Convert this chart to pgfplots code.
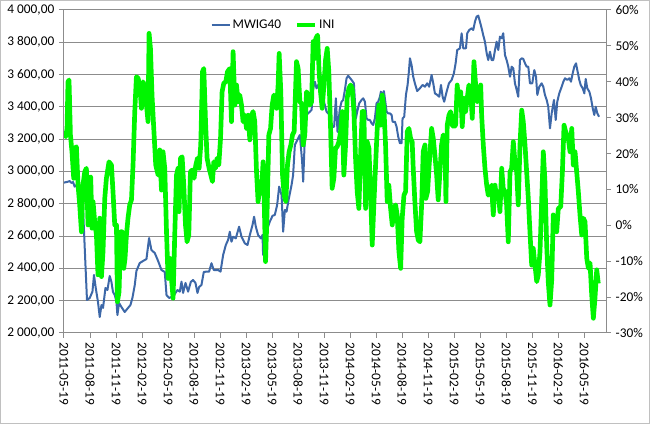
\documentclass[border=0pt]{standalone}
\usepackage{fontspec}
\setmainfont{Carlito}
\usepackage{pgfplots}
\pgfplotsset{compat=1.18}
\definecolor{mwig}{HTML}{3D68A8}
\definecolor{ini}{HTML}{00F500}
\definecolor{gridc}{HTML}{8C8C8C}
\definecolor{framec}{HTML}{C0C0C0}

\pgfplotsset{
  chartbox/.style={
    at={(48pt,68.25pt)}, anchor=south west,
    scale only axis, width=406.5pt, height=242.25pt,
    xmin=0, xmax=62.5,
    tick align=outside, major tick length=3.75pt,
    tick style={gridc, line width=0.75pt},
    axis line style={gridc, line width=0.75pt},
    tick label style={font=\fontsize{10}{12}\selectfont, black},
    /pgf/number format/assume math mode=true,
  }
}

\begin{document}
\fontsize{10}{12}\selectfont
\begin{tikzpicture}
\path[use as bounding box] (0,0) rectangle (487.5pt,318pt);
\draw[framec, line width=0.75pt] (0.4pt,0.4pt) rectangle (487.1pt,317.6pt);

% left axis: MWIG40
\begin{axis}[chartbox,
  ymin=2000, ymax=4000,
  axis x line*=bottom, axis y line*=left,
  xtick={0,3,...,60},
  xticklabels={2011-05-19,2011-08-19,2011-11-19,2012-02-19,2012-05-19,2012-08-19,2012-11-19,2013-02-19,2013-05-19,2013-08-19,2013-11-19,2014-02-19,2014-05-19,2014-08-19,2014-11-19,2015-02-19,2015-05-19,2015-08-19,2015-11-19,2016-02-19,2016-05-19},
  xticklabel style={rotate=-90, anchor=west},
  ytick={2000,2200,...,4000},
  yticklabel style={/pgf/number format/.cd, fixed, fixed zerofill, precision=2, use comma, 1000 sep={\ }},
  ymajorgrids, grid style={gridc, line width=0.75pt},
]
\addplot[mwig, line width=1.5pt, line join=round] coordinates {
(0,2931)(0.46,2937)(0.66,2941)(0.85,2929)(1.04,2935)(1.23,2906)(1.43,2916)(1.70,2885)(2.01,2873)(2.19,2780)(2.45,2452)(2.65,2204)(2.97,2217)(3.28,2256)(3.46,2359)(3.66,2279)(3.92,2192)(4.12,2099)(4.32,2173)(4.50,2155)(4.78,2279)(5.01,2266)(5.27,2353)(5.47,2316)(5.65,2254)(5.85,2235)(6.05,2192)(6.16,2111)(6.35,2186)(6.62,2161)(7.00,2130)(7.38,2155)(7.66,2173)(7.89,2217)(8.16,2297)(8.35,2384)(8.73,2433)(9.12,2446)(9.51,2458)(9.81,2588)(10.08,2514)(10.47,2495)(10.85,2446)(11.24,2390)(11.62,2378)(11.82,2235)(12.12,2217)(12.39,2223)(12.77,2241)(13.08,2266)(13.35,2256)(13.55,2318)(13.73,2248)(14.01,2310)(14.31,2256)(14.62,2316)(14.88,2328)(15.16,2310)(15.39,2248)(15.58,2285)(15.85,2297)(16.12,2378)(16.43,2380)(16.73,2380)(17.01,2432)(17.27,2390)(17.77,2390)(18.05,2380)(18.35,2483)(18.66,2545)(18.92,2576)(19.12,2627)(19.31,2565)(19.50,2596)(19.81,2586)(20.19,2658)(20.47,2596)(20.85,2555)(21.16,2545)(21.43,2607)(21.74,2669)(21.92,2720)(22.12,2658)(22.38,2607)(22.70,2586)(22.89,2607)(22.96,2483)(23.16,2576)(23.47,2648)(23.73,2689)(24.05,2726)(24.31,2731)(24.58,2793)(24.81,2906)(25.09,2854)(25.27,2627)(25.47,2762)(25.66,2751)(25.93,2834)(26.24,2916)(26.42,2978)(26.62,3164)(27.00,3206)(27.20,3226)(27.46,3061)(27.58,2937)(27.77,3206)(27.97,3350)(28.15,3360)(28.35,3370)(28.55,3381)(28.73,3515)(28.93,3556)(29.12,3515)(29.31,3536)(29.50,3494)(29.70,3484)(29.88,3453)(30.28,3370)(30.66,3350)(30.85,3277)(31.15,3277)(31.35,3453)(31.54,3246)(31.81,3391)(32.01,3432)(32.19,3443)(32.39,3505)(32.58,3577)(32.77,3593)(33.16,3567)(33.43,3546)(33.66,3329)(33.81,3370)(34.04,3422)(34.31,3443)(34.50,3453)(34.70,3432)(34.89,3329)(35.08,3319)(35.27,3319)(35.47,3298)(35.65,3288)(35.85,3329)(36.04,3422)(36.23,3432)(36.43,3463)(36.54,3494)(36.69,3474)(36.89,3498)(37.00,3453)(37.20,3370)(37.38,3360)(37.58,3360)(37.78,3350)(37.89,3308)(38.16,3308)(38.35,3277)(38.54,3215)(38.73,3175)(38.93,3175)(39.04,3329)(39.23,3339)(39.43,3474)(39.62,3536)(39.77,3618)(39.89,3701)(40.08,3659)(40.27,3587)(40.46,3546)(40.73,3498)(41.04,3515)(41.35,3536)(41.62,3525)(41.88,3546)(42.11,3525)(42.39,3598)(42.58,3546)(42.77,3484)(43.04,3474)(43.27,3463)(43.47,3536)(43.66,3463)(43.84,3432)(44.12,3494)(44.39,3546)(44.70,3567)(44.96,3608)(45.16,3670)(45.34,3752)(45.66,3763)(45.85,3856)(46.04,3763)(46.35,3763)(46.50,3856)(46.73,3876)(47.01,3887)(47.19,3876)(47.39,3928)(47.58,3959)(47.77,3965)(47.96,3928)(48.16,3887)(48.34,3845)(48.54,3804)(48.74,3732)(48.92,3690)(49.12,3742)(49.31,3690)(49.50,3690)(49.70,3752)(49.89,3804)(50.08,3752)(50.27,3835)(50.47,3825)(50.65,3856)(50.85,3721)(51.04,3690)(51.23,3649)(51.43,3587)(51.62,3649)(51.81,3639)(52.00,3546)(52.20,3505)(52.38,3463)(52.58,3690)(52.78,3701)(52.96,3697)(53.16,3670)(53.35,3649)(53.54,3649)(53.73,3546)(54.00,3546)(54.23,3628)(54.43,3587)(54.58,3474)(54.81,3525)(55.08,3546)(55.27,3525)(55.46,3474)(55.66,3443)(55.84,3401)(56.04,3267)(56.24,3362)(56.50,3443)(56.70,3319)(56.88,3432)(57.11,3484)(57.39,3525)(57.58,3556)(57.77,3577)(58.04,3567)(58.27,3577)(58.46,3556)(58.66,3608)(58.84,3649)(59.04,3670)(59.19,3628)(59.42,3567)(59.58,3536)(59.81,3515)(60.00,3484)(60.16,3573)(60.34,3515)(60.58,3494)(60.77,3453)(60.97,3391)(61.15,3350)(61.31,3401)(61.50,3360)(61.70,3339)
};
\end{axis}

% right axis: INI
\begin{axis}[chartbox,
  ymin=-30, ymax=60,
  axis x line=none, axis y line*=right,
  ytick={-30,-20,...,60},
  yticklabel={\pgfmathprintnumber{\tick}\%},
  legend style={at={(0.386,0.954)}, anchor=center, draw=none, fill=none,
    legend columns=2, font=\fontsize{10}{12}\selectfont,
    nodes={inner sep=1pt},
    /tikz/every even column/.append style={column sep=9pt}},
  legend image code/.code={\draw[#1] (0pt,0pt) -- (14pt,0pt);},
]
\addlegendimage{mwig, line width=1.5pt}
\addlegendentry{MWIG40}
\addplot[ini, line width=3.5pt, line join=round] coordinates {
(0,25.6)(0.20,24.7)(0.35,27.0)(0.46,40.0)(0.58,40.5)(0.74,25.2)(0.92,20.5)(1.12,13.1)(1.27,21.5)(1.43,21.9)(1.62,11.2)(1.81,5.7)(2.01,-1.8)(2.19,11.2)(2.39,14.9)(2.58,15.9)(2.77,0.1)(2.88,13.1)(3.08,13.5)(3.23,-0.8)(3.35,6.6)(3.54,1.0)(3.74,-2.7)(3.92,-13.8)(4.12,2.0)(4.32,-14.3)(4.50,-7.3)(4.70,7.5)(4.89,13.1)(5.19,17.7)(5.47,16.8)(5.65,9.4)(5.85,0.1)(6.05,0.1)(6.16,-21.3)(6.35,-18.5)(6.54,-1.8)(6.69,-1.8)(6.89,-12.0)(7.04,-9.2)(7.20,-2.7)(7.38,2.0)(7.58,5.7)(7.78,7.1)(7.96,16.8)(8.16,31.7)(8.35,41.4)(8.54,41.0)(8.73,39.1)(8.93,32.6)(9.12,40.0)(9.31,38.6)(9.51,33.5)(9.69,28.9)(9.81,53.5)(9.97,49.3)(10.15,36.3)(10.35,27.0)(10.58,16.8)(10.85,14.0)(11.04,21.0)(11.24,9.8)(11.42,20.5)(11.62,15.9)(11.82,-1.8)(12.00,-14.8)(12.20,-9.2)(12.39,-14.8)(12.58,-20.3)(12.77,-2.7)(12.97,14.0)(13.15,15.9)(13.27,3.8)(13.43,18.7)(13.62,19.1)(13.81,11.2)(14.01,0.1)(14.19,-4.6)(14.39,-2.7)(14.58,14.9)(14.77,15.4)(15.00,13.1)(15.20,16.8)(15.39,18.7)(15.58,15.9)(15.77,22.4)(15.97,42.8)(16.12,43.7)(16.32,28.9)(16.50,18.7)(16.73,15.9)(16.93,14.0)(17.12,12.2)(17.27,17.7)(17.47,15.9)(17.65,18.7)(17.85,16.8)(18.05,24.2)(18.23,37.2)(18.43,39.6)(18.66,40.0)(18.85,42.8)(19.12,43.7)(19.31,28.9)(19.50,48.4)(19.70,33.5)(19.89,39.1)(20.08,34.4)(20.27,36.3)(20.47,33.5)(20.65,28.9)(20.85,30.7)(21.05,27.0)(21.23,30.7)(21.43,23.8)(21.62,30.7)(21.81,31.7)(22.00,28.9)(22.20,14.9)(22.38,6.6)(22.58,10.3)(22.78,10.3)(22.96,17.7)(23.08,7.5)(23.24,-10.1)(23.42,3.8)(23.62,25.2)(23.82,27.0)(24.00,33.5)(24.20,36.3)(24.51,32.6)(24.69,39.1)(24.81,47.9)(25.00,37.2)(25.20,14.0)(25.39,8.4)(25.58,6.6)(25.77,16.8)(25.96,20.5)(26.16,22.4)(26.35,25.2)(26.54,26.1)(26.81,45.6)(27.00,43.7)(27.20,34.4)(27.39,34.0)(27.58,22.4)(27.77,25.2)(27.97,37.2)(28.15,36.3)(28.35,33.5)(28.55,34.4)(28.73,51.2)(28.93,46.5)(29.04,52.1)(29.24,53.0)(29.42,42.8)(29.58,37.2)(29.77,32.6)(29.96,38.6)(30.16,46.1)(30.35,49.3)(30.54,42.8)(30.74,27.0)(30.92,10.3)(31.12,13.1)(31.31,21.5)(31.50,21.9)(31.70,23.3)(31.89,26.1)(32.08,31.7)(32.27,14.0)(32.47,22.4)(32.65,35.4)(32.85,38.2)(33.05,39.1)(33.23,38.2)(33.43,31.7)(33.62,18.7)(33.81,9.4)(34.00,4.7)(34.20,19.6)(34.39,31.7)(34.58,31.7)(34.78,4.7)(34.96,23.3)(35.16,21.5)(35.35,9.4)(35.54,-5.5)(35.73,5.7)(35.93,16.8)(36.12,27.0)(36.31,33.5)(36.51,27.9)(36.69,36.3)(36.89,32.6)(37.08,22.4)(37.27,6.6)(37.46,11.2)(37.66,4.7)(37.85,0.1)(38.04,4.7)(38.24,5.7)(38.42,2.9)(38.62,-7.3)(38.82,-12.0)(39.00,2.0)(39.20,8.4)(39.39,9.4)(39.58,26.1)(39.77,27.0)(39.97,24.2)(40.15,23.3)(40.27,15.9)(40.46,6.6)(40.66,-1.8)(40.85,-4.1)(41.04,-4.6)(41.24,5.7)(41.42,20.5)(41.62,22.4)(41.73,7.5)(41.93,9.4)(42.11,16.8)(42.39,27.0)(42.58,24.2)(42.77,19.6)(42.97,14.0)(43.15,7.1)(43.35,14.9)(43.54,22.4)(43.73,25.2)(43.93,23.3)(44.04,6.6)(44.19,27.9)(44.39,30.7)(44.58,31.7)(44.77,27.9)(44.96,27.5)(45.16,27.9)(45.34,39.1)(45.54,33.5)(45.74,37.2)(45.92,27.5)(46.12,35.4)(46.31,31.7)(46.50,35.4)(46.69,39.1)(46.89,37.2)(47.08,29.8)(47.27,45.6)(47.47,39.1)(47.65,34.4)(47.85,36.8)(48.05,39.1)(48.16,30.7)(48.35,22.4)(48.54,15.9)(48.74,11.2)(48.92,8.4)(49.12,9.4)(49.31,11.2)(49.50,2.9)(49.70,11.2)(49.89,7.5)(50.08,9.4)(50.27,3.8)(50.47,15.9)(50.65,10.3)(50.85,9.4)(51.04,5.7)(51.23,-4.6)(51.43,14.9)(51.62,15.9)(51.81,23.3)(52.00,17.7)(52.20,14.9)(52.38,5.7)(52.58,22.4)(52.78,32.1)(52.96,28.9)(53.16,22.4)(53.35,14.9)(53.54,7.5)(53.73,-1.8)(53.93,-11.1)(54.11,-6.4)(54.31,-11.1)(54.51,-15.7)(54.69,-13.8)(54.89,-7.3)(55.08,6.6)(55.27,20.5)(55.46,12.2)(55.66,-5.5)(55.84,-15.7)(56.04,-22.2)(56.24,-15.2)(56.42,2.9)(56.62,1.0)(56.81,-1.8)(57.00,4.7)(57.28,5.2)(57.47,14.9)(57.66,27.9)(57.85,26.1)(58.15,24.2)(58.35,20.5)(58.55,27.0)(58.73,16.8)(58.93,20.5)(59.12,14.9)(59.31,9.4)(59.50,2.9)(59.70,-2.7)(59.89,2.0)(60.08,1.0)(60.28,-9.2)(60.47,-12.0)(60.66,-10.5)(60.85,-19.4)(61.04,-25.9)(61.23,-20.3)(61.43,-12.4)(61.61,-16.2)
};
\addlegendentry{INI}
\end{axis}
\end{tikzpicture}
\end{document}
